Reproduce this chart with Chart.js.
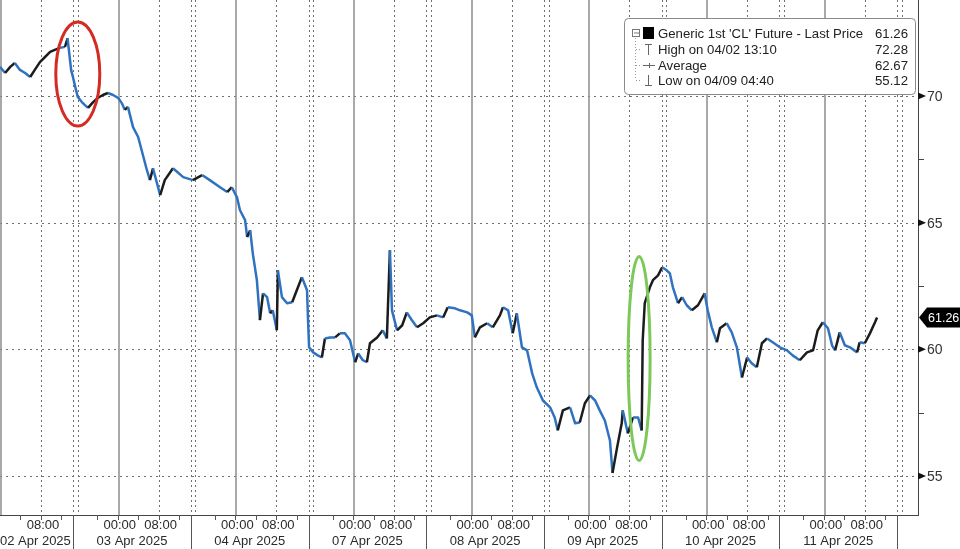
<!DOCTYPE html>
<html>
<head>
<meta charset="utf-8">
<script src="https://cdn.jsdelivr.net/npm/chart.js@4.4.1/dist/chart.umd.min.js"></script>
<style>
  html, body { margin: 0; padding: 0; background: #fff; }
  #wrap { width: 960px; height: 549px; }
</style>
</head>
<body>
<div id="wrap"><canvas id="oilChart" width="960" height="549"></canvas></div>
<script>
// trading hours since 02 Apr 00:00 (each session is 23 h, gaps removed)
const hours = [
  0, 1.0, 2.0, 2.9, 3.9, 4.9, 5.9, 6.8, 7.8, 8.8, 9.8, 10.7, 11.7, 12.7, 13.2, 13.9, 14.3, 14.7, 15.2, 16.0, 16.6, 17.2, 18.2, 19.1, 20.1, 21.1, 22.1,
  23.1, 23.8, 24.4, 25.0, 26.0, 27.0, 28.7, 29.3, 29.9, 31.3, 32.2, 33.8, 35.8, 37.7, 39.5, 41.0, 43.0, 44.4, 45.3,
  46.3, 46.9, 47.9, 48.3, 48.9, 49.4, 50.2, 50.8, 51.4, 52.2, 52.8, 53.3, 54.1, 54.3, 55.1, 56.1, 57.1, 58.0, 59.0, 60.0,
  60.2, 60.4, 61.2, 62.1, 62.9, 63.5, 64.5, 65.5, 66.4, 67.4, 68.4, 69.4, 70.0, 70.9, 71.7, 72.3, 73.7, 74.8, 75.6, 76.2, 76.6, 77.6, 78.6, 79.5, 80.5, 81.5, 82.7, 84.0, 85.4, 86.6, 87.5, 88.9, 89.9, 91.3,
  92.2, 92.8, 93.8, 95.2, 96.3, 97.7, 98.3, 99.3, 100.2, 101.0, 102.0, 103.0, 104.0, 104.9, 106.1, 107.5, 108.4, 109.0, 110.0, 111.4, 112.4, 113.3, 114.3,
  115.3, 116.3, 117.2, 118.2, 119.2, 119.7, 120.6, 121.5, 121.7, 122.7, 123.7, 124.7, 125.4, 125.6, 126.0, 127.0, 127.6, 128.6, 129.4, 130.3, 130.9, 131.5, 132.5, 133.3, 134.2, 135.2, 136.4, 137.7,
  138.3, 139.1, 140.1, 140.7, 142.0, 143.0, 144.0, 145.0, 146.0, 146.9, 147.9, 148.9, 149.9, 151.0, 152.4, 153.8, 154.9, 156.3, 157.7, 158.9, 159.8,
  160.8, 161.8, 162.6, 163.2, 164.1, 165.1, 166.1, 167.5, 168.0, 169.0, 170.0, 171.0, 171.4
];
const price = [
  71.15, 70.91, 71.15, 71.30, 71.03, 70.91, 70.75, 71.03, 71.34, 71.54, 71.74, 71.82, 71.90, 71.94, 72.28, 71.03, 70.71, 70.36, 69.96, 69.76, 69.64, 69.53, 69.76, 69.92, 70.04, 70.12, 70.04,
  69.92, 69.72, 69.45, 69.57, 68.77, 68.38, 67.08, 66.68, 67.15, 66.09, 66.68, 67.15, 66.80, 66.68, 66.88, 66.68, 66.40, 66.21, 66.40,
  66.01, 65.49, 65.10, 64.43, 64.70, 63.79, 62.73, 61.15, 62.21, 62.06, 61.42, 61.54, 60.75, 63.12, 62.06, 61.82, 61.86, 62.33, 62.85, 62.33,
  61.15, 60.08, 59.88, 59.76, 59.68, 60.43, 60.47, 60.47, 60.63, 60.63, 60.36, 59.49, 59.84, 59.57, 59.49, 60.24, 60.47, 60.75, 60.43, 63.91, 61.54, 60.75, 60.95, 61.46, 61.15, 60.87, 61.03, 61.26, 61.34, 61.26, 61.66, 61.62, 61.54, 61.46,
  61.34, 60.47, 60.87, 61.03, 60.87, 61.34, 61.66, 61.54, 60.63, 61.42, 60.08, 59.96, 59.05, 58.50, 57.98, 57.71, 57.31, 56.80, 57.59, 57.71, 57.08, 57.11, 57.87,
  58.18, 57.98, 57.59, 57.19, 56.40, 55.12, 56.13, 57.08, 57.59, 56.68, 57.31, 57.31, 56.80, 60.36, 61.82, 62.45, 62.73, 62.92, 63.24, 63.12, 63.00, 62.45, 61.82, 62.06, 61.74, 61.54, 61.74, 62.21,
  61.54, 60.87, 60.28, 60.83, 61.03, 60.67, 60.08, 58.89, 59.68, 59.45, 59.29, 60.24, 60.43, 60.28, 60.08, 59.96, 59.76, 59.57, 59.88, 59.96, 60.75,
  61.07, 60.83, 60.16, 59.96, 60.67, 60.16, 60.08, 59.88, 60.28, 60.24, 60.63, 61.07, 61.26
];

const dayLabels = ["02 Apr 2025", "03 Apr 2025", "04 Apr 2025", "07 Apr 2025", "08 Apr 2025", "09 Apr 2025", "10 Apr 2025", "11 Apr 2025"];
const timeLabels = ["00:00", "08:00"];
const timeOffsets = [0, 8];
const priceTicks = [55, 60, 65, 70];
const minorTicks = [57.5, 62.5, 67.5];
const sessionLen = 23;
const sessionBreak = 14.3;

const lastPrice = 61.26;
const legendRows = [
  { text: "Generic 1st 'CL' Future - Last Price", value: "61.26" },
  { text: "High on 04/02 13:10", value: "72.28" },
  { text: "Average", value: "62.67" },
  { text: "Low on 04/09 04:40", value: "55.12" }
];
// circled moves: [hours, price]
const redMark = [15.2, 70.87];
const greenMark = [124.9, 59.64];

const FONT = "'Liberation Sans', Arial, sans-serif";
const BLUE = "#2f72c0";
const DARK = "#1c1c1c";

function strokeLine(ctx, x1, y1, x2, y2) {
  ctx.beginPath();
  ctx.moveTo(x1, y1);
  ctx.lineTo(x2, y2);
  ctx.stroke();
}

const bbgPlugin = {
  id: "bbgPlugin",
  beforeDatasetsDraw(chart) {
    const { ctx, chartArea: a, scales: { x, y } } = chart;
    ctx.save();
    ctx.lineWidth = 1;
    ctx.strokeStyle = "#707070";
    ctx.setLineDash([2, 4]);
    priceTicks.forEach(v => {
      const py = Math.round(y.getPixelForValue(v)) + 0.5;
      strokeLine(ctx, a.left, py, a.right, py);
    });
    ctx.setLineDash([2, 3]);
    dayLabels.forEach((d, i) => {
      const base = i * sessionLen;
      [base + 8, base + sessionBreak, base + sessionBreak + 0.9].forEach(t => {
        const px = Math.round(x.getPixelForValue(t)) + 0.5;
        if (px < a.right) strokeLine(ctx, px, a.top, px, a.bottom);
      });
    });
    ctx.setLineDash([]);
    ctx.strokeStyle = "#8c8c8c";
    ctx.lineWidth = 1.5;
    dayLabels.forEach((d, i) => {
      const px = Math.round(x.getPixelForValue(i * sessionLen)) + 1;
      strokeLine(ctx, px, a.top, px, a.bottom);
    });
    ctx.restore();
  },
  afterDraw(chart) {
    const { ctx, chartArea: a, scales: { x, y } } = chart;
    ctx.save();

    // axes lines
    ctx.strokeStyle = "#444";
    ctx.lineWidth = 1;
    strokeLine(ctx, a.right + 0.5, 0, a.right + 0.5, a.bottom + 1);
    strokeLine(ctx, 0, a.bottom + 0.5, a.right + 1, a.bottom + 0.5);

    // y ticks with arrow markers
    ctx.fillStyle = "#111";
    priceTicks.forEach(v => {
      const py = y.getPixelForValue(v);
      ctx.beginPath();
      ctx.moveTo(a.right, py - 3.5);
      ctx.lineTo(a.right + 8, py);
      ctx.lineTo(a.right, py + 3.5);
      ctx.closePath();
      ctx.fill();
    });
    minorTicks.forEach(v => {
      const py = Math.round(y.getPixelForValue(v)) + 0.5;
      strokeLine(ctx, a.right, py, a.right + 6, py);
    });
    ctx.font = "14px " + FONT;
    ctx.fillStyle = "#333";
    ctx.textAlign = "left";
    ctx.textBaseline = "middle";
    priceTicks.forEach(v => {
      ctx.fillText(String(v), a.right + 9, y.getPixelForValue(v) + 1);
    });

    // last price tag
    const ly = y.getPixelForValue(lastPrice);
    ctx.fillStyle = "#000";
    ctx.beginPath();
    ctx.moveTo(a.right + 1, ly);
    ctx.lineTo(a.right + 9, ly - 10);
    ctx.lineTo(960, ly - 10);
    ctx.lineTo(960, ly + 10);
    ctx.lineTo(a.right + 9, ly + 10);
    ctx.closePath();
    ctx.fill();
    ctx.fillStyle = "#fff";
    ctx.font = "12.5px " + FONT;
    ctx.fillText(lastPrice.toFixed(2), a.right + 10, ly + 1);

    // x axis: ticks, separators, two label rows
    ctx.strokeStyle = "#555";
    ctx.lineWidth = 1;
    dayLabels.forEach((d, i) => {
      const base = i * sessionLen;
      [0, 4, 8, 12, 19].forEach(h => {
        const px = Math.round(x.getPixelForValue(base + h)) + 0.5;
        if (px > 1 && px < a.right) strokeLine(ctx, px, a.bottom, px, a.bottom + 5);
      });
      const sx = Math.round(x.getPixelForValue(base + sessionBreak)) + 0.5;
      if (sx < a.right) strokeLine(ctx, sx, a.bottom, sx, 549);
    });
    ctx.fillStyle = "#2a2a2a";
    ctx.font = "13px " + FONT;
    ctx.textAlign = "center";
    dayLabels.forEach((d, i) => {
      const base = i * sessionLen;
      timeLabels.forEach((lbl, k) => {
        const px = x.getPixelForValue(base + timeOffsets[k]) + 2;
        const w = ctx.measureText(lbl).width;
        if (px - w / 2 > 0 && px + w / 2 < a.right) ctx.fillText(lbl, px, a.bottom + 10);
      });
      const left = x.getPixelForValue(base - sessionLen + sessionBreak);
      const right = x.getPixelForValue(base + sessionBreak);
      const w = ctx.measureText(d).width;
      let cx = (left + right) / 2;
      if (cx - w / 2 < 0) cx = w / 2;
      ctx.fillText(d, cx, a.bottom + 26);
    });

    // circled moves
    ctx.lineWidth = 3;
    ctx.strokeStyle = "#d42b22";
    ctx.beginPath();
    ctx.ellipse(x.getPixelForValue(redMark[0]), y.getPixelForValue(redMark[1]), 22, 52, 0, 0, Math.PI * 2);
    ctx.stroke();
    ctx.strokeStyle = "#7cc95a";
    ctx.beginPath();
    ctx.ellipse(x.getPixelForValue(greenMark[0]), y.getPixelForValue(greenMark[1]), 11, 102, 0, 0, Math.PI * 2);
    ctx.stroke();

    // legend box
    const bx = 624, by = 18, bw = 291, bh = 76;
    ctx.fillStyle = "#fff";
    ctx.strokeStyle = "#8a8a8a";
    ctx.lineWidth = 1;
    ctx.beginPath();
    ctx.roundRect(bx + 0.5, by + 0.5, bw, bh, 4);
    ctx.fill();
    ctx.stroke();
    const rowY = [33, 49, 65, 80];
    // tree lines
    ctx.strokeStyle = "#999";
    ctx.setLineDash([1, 2]);
    strokeLine(ctx, 635.5, 38, 635.5, rowY[3]);
    rowY.slice(1).forEach(ry => strokeLine(ctx, 636, ry + 0.5, 642, ry + 0.5));
    ctx.setLineDash([]);
    // collapse box + black square
    ctx.strokeStyle = "#777";
    ctx.strokeRect(632.5, 29.5, 7, 7);
    strokeLine(ctx, 634, 33, 639, 33);
    ctx.fillStyle = "#000";
    ctx.fillRect(643, 27, 11, 12);
    // high / avg / low icons
    ctx.strokeStyle = "#666";
    strokeLine(ctx, 648.5, 44, 648.5, 55);
    strokeLine(ctx, 645, 44.5, 652, 44.5);
    strokeLine(ctx, 643, 65.5, 655, 65.5);
    strokeLine(ctx, 649.5, 63, 649.5, 68);
    strokeLine(ctx, 648.5, 75, 648.5, 85);
    strokeLine(ctx, 645, 85.5, 652, 85.5);
    ctx.fillStyle = "#222";
    ctx.font = "13.2px " + FONT;
    ctx.textBaseline = "middle";
    legendRows.forEach((r, i) => {
      ctx.textAlign = "left";
      ctx.fillText(r.text, 658, rowY[i] + 1);
      ctx.textAlign = "right";
      ctx.fillText(r.value, 908, rowY[i] + 1);
    });

    ctx.restore();
  }
};

function createChart() {
  const ctx = document.getElementById("oilChart").getContext("2d");
  new Chart(ctx, {
    type: "line",
    data: {
      datasets: [{
        data: hours.map((h, i) => ({ x: h, y: price[i] })),
        borderColor: BLUE,
        borderWidth: 2.5,
        borderJoinStyle: "round",
        pointRadius: 0,
        tension: 0,
        segment: {
          borderColor: c => c.p1.parsed.y > c.p0.parsed.y + 0.05 ? DARK : BLUE
        }
      }]
    },
    options: {
      responsive: false,
      animation: false,
      layout: { padding: { left: 0, top: 0, right: 42, bottom: 34 } },
      scales: {
        x: { type: "linear", min: 0, max: 179.4, display: false },
        y: { min: 53.46, max: 73.79, display: false }
      },
      plugins: {
        legend: { display: false },
        tooltip: { enabled: false }
      }
    },
    plugins: [bbgPlugin]
  });
}

createChart();
</script>
</body>
</html>
